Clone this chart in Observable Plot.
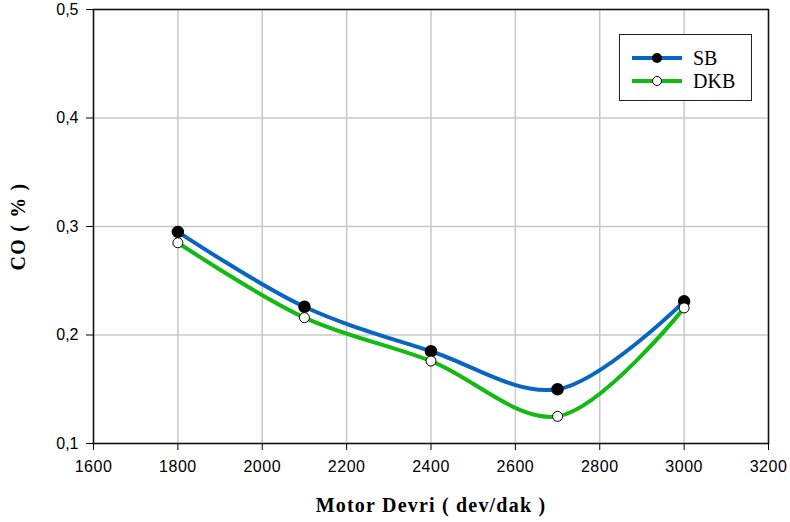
<!DOCTYPE html>
<html><head><meta charset="utf-8">
<script src="https://cdn.jsdelivr.net/npm/d3@7"></script>
<script src="https://cdn.jsdelivr.net/npm/@observablehq/plot@0.6"></script>
<style>
body{margin:0;background:#fff;}
#wrap{position:relative;width:790px;height:522px;}
#legend{position:absolute;left:619px;top:34px;width:131px;height:65px;border:1.5px solid #222;background:#fff;font-family:"Liberation Serif","Times New Roman",serif;font-size:20px;color:#000;}
#legend .row{position:absolute;left:12px;height:20px;display:flex;align-items:center;}
#legend .row span{margin-left:11px;}
</style></head><body>
<div id="wrap"><div id="chart"></div>
<div id="legend">
<div class="row" style="top:13px"><svg width="50" height="12"><line x1="0" y1="6" x2="50" y2="6" stroke="#0766c2" stroke-width="4"/><circle cx="25" cy="6" r="5" fill="#000"/></svg><span>SB</span></div>
<div class="row" style="top:36px"><svg width="50" height="12"><line x1="0" y1="6" x2="50" y2="6" stroke="#11bb11" stroke-width="4"/><circle cx="25" cy="6" r="4.5" fill="#fff" stroke="#000" stroke-width="1"/></svg><span>DKB</span></div>
</div></div>
<script>
const speeds = [1800, 2100, 2400, 2700, 3000];
const sb = [0.295, 0.226, 0.185, 0.150, 0.231];
const dkb = [0.285, 0.216, 0.176, 0.125, 0.225];
const xTicks = [1600,1800,2000,2200,2400,2600,2800,3000,3200];
const yTicks = [0.1,0.2,0.3,0.4,0.5];
const xTitle = "Motor Devri ( dev/dak )";
const yTitle = "CO ( % )";

const sbData = speeds.map((s,i)=>({x:s,y:sb[i]}));
const dkbData = speeds.map((s,i)=>({x:s,y:dkb[i]}));
const fmt = d => d.toFixed(1).replace(".", ",");

const plot = Plot.plot({
  width: 790, height: 522,
  marginLeft: 93, marginRight: 22, marginTop: 9, marginBottom: 79,
  style:{fontFamily:"'Liberation Sans', Arial, sans-serif", fontSize:"16px", color:"#000", background:"#fff"},
  x:{domain:[1600,3200]},
  y:{domain:[0.1,0.5]},
  marks:[
    Plot.gridX(xTicks, {stroke:"#c8c8c8", strokeOpacity:1, strokeWidth:1.5}),
    Plot.gridY(yTicks, {stroke:"#c8c8c8", strokeOpacity:1, strokeWidth:1.5}),
    Plot.frame({stroke:"#111", strokeWidth:1.5}),
    Plot.axisX({ticks:xTicks, tickSize:7, tickPadding:10, tickFormat:d=>String(d), label:null, fontSize:16}),
    Plot.axisY({ticks:yTicks, tickSize:7, tickPadding:8, tickFormat:fmt, label:null, fontSize:16}),
    Plot.text([xTitle], {frameAnchor:"bottom", dy:68, fontFamily:"'Liberation Serif', serif", fontWeight:"bold", fontSize:20}),
    Plot.text([yTitle], {frameAnchor:"left", textAnchor:"middle", dx:-75, rotate:-90, fontFamily:"'Liberation Serif', serif", fontWeight:"bold", fontSize:20}),
    Plot.line(sbData, {x:"x", y:"y", stroke:"#0766c2", strokeWidth:4, curve:"catmull-rom"}),
    Plot.line(dkbData, {x:"x", y:"y", stroke:"#11bb11", strokeWidth:4, curve:"catmull-rom"}),
    Plot.dot(sbData, {x:"x", y:"y", r:5.5, fill:"#000", stroke:"#000"}),
    Plot.dot(dkbData, {x:"x", y:"y", r:5, fill:"#fff", stroke:"#000", strokeWidth:1})
  ]
});
d3.select(plot).selectAll("text")
  .filter(function(){ return this.textContent === xTitle || this.textContent === yTitle; })
  .style("letter-spacing", "1.2px");
d3.select(plot).selectAll('g[aria-label="x-axis tick label"] text').style("letter-spacing", "0.5px");
document.getElementById("chart").appendChild(plot);
</script></body></html>
